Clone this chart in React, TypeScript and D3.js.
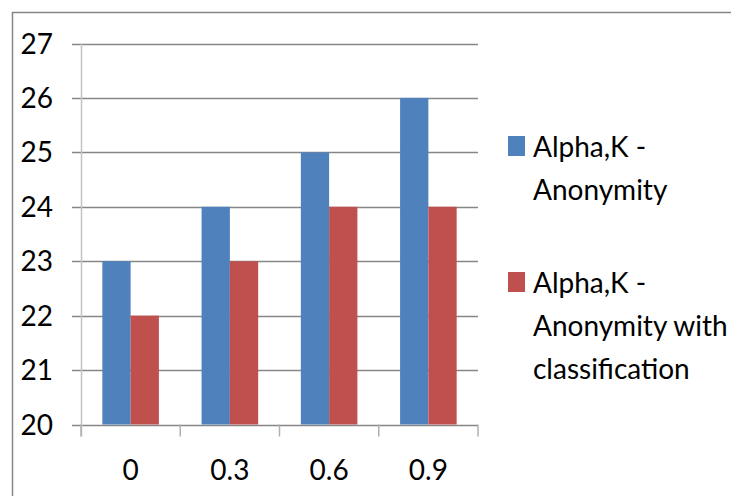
import React from "react";
import * as d3 from "d3";

const categories = ["0", "0.3", "0.6", "0.9"];
const seriesNames = ["Alpha,K - Anonymity", "Alpha,K - Anonymity with classification"];
const seriesA = [23, 24, 25, 26];
const seriesB = [22, 23, 24, 24];
const yTicks = [20, 21, 22, 23, 24, 25, 26, 27];
const colors = ["#4F81BD", "#C0504D"];
const legendLines = [["Alpha,K -", "Anonymity"], ["Alpha,K -", "Anonymity with", "classification"]];

export default function App() {
  const W = 731, H = 496;
  const left = 81, right = 478, top = 43.5, bottom = 424.5;
  const y = d3.scaleLinear().domain([20, 27]).range([bottom, top]);
  const x = d3.scaleBand<string>().domain(categories).range([left, right]).paddingInner(0.43).paddingOuter(0.215);
  const sub = d3.scaleBand<number>().domain([0, 1]).range([0, x.bandwidth()]);
  const font = "Lato, 'Open Sans', sans-serif";
  const values = [seriesA, seriesB];
  const step = (right - left) / categories.length;
  const legendY = [157, 293];
  return (
    <svg width={W} height={H} style={{ position: "absolute", left: 0, top: 0 }} fontFamily={font}>
      <rect x={0} y={0} width={W} height={H} fill="#fff" />
      <path d={`M12.5,${H} V12.5 H${W}`} fill="none" stroke="#868686" strokeWidth={1.5} />
      {yTicks.map((t) => (
        <g key={t}>
          <line x1={72} x2={right} y1={Math.round(y(t)) + 0.5} y2={Math.round(y(t)) + 0.5} stroke="#868686" strokeWidth={1.3} />
          <text x={53} y={y(t)} dy="0.36em" textAnchor="end" fontSize={28} fill="#000">{t}</text>
        </g>
      ))}
      <line x1={left + 0.5} x2={left + 0.5} y1={top} y2={bottom + 12} stroke="#c4c4c4" strokeWidth={1.5} />
      {d3.range(categories.length + 1).map((i) => (
        <line key={i} x1={left + i * step} x2={left + i * step} y1={bottom} y2={bottom + 12} stroke="#b0b0b0" strokeWidth={1.5} />
      ))}
      {categories.map((c, i) => (
        <g key={c}>
          {values.map((vals, s) => (
            <rect key={s} x={(x(c) as number) + (sub(s) as number)} y={y(vals[i])} width={sub.bandwidth()} height={bottom - y(vals[i])} fill={colors[s]} />
          ))}
          <text x={(x(c) as number) + x.bandwidth() / 2} y={480} textAnchor="middle" fontSize={28} fill="#000">{c}</text>
        </g>
      ))}
      {seriesNames.map((n, s) => (
        <g key={n}>
          <rect x={508} y={legendY[s] - 21} width={17} height={20} fill={colors[s]} />
          {legendLines[s].map((l, j) => (
            <text key={j} x={533} y={legendY[s] + j * 43} fontSize={28} fill="#000">{l}</text>
          ))}
        </g>
      ))}
    </svg>
  );
}
